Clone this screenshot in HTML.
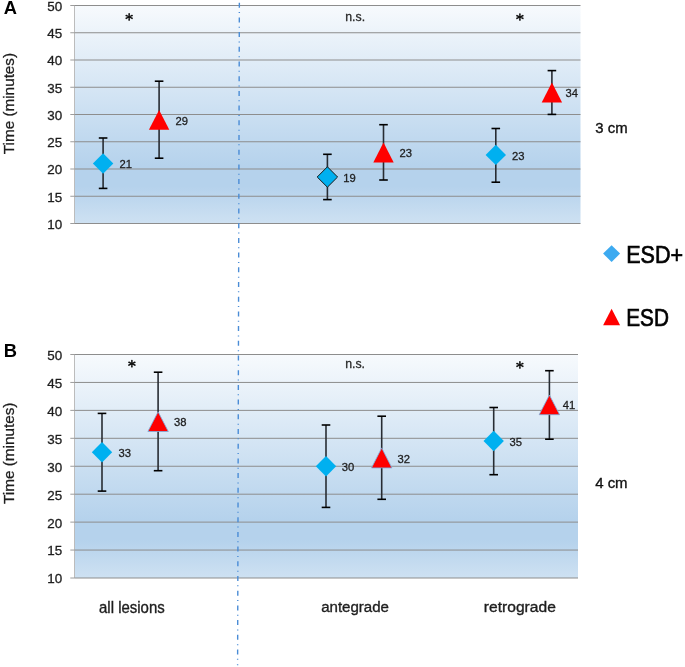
<!DOCTYPE html>
<html><head><meta charset="utf-8"><style>
html,body{margin:0;padding:0;background:#fff;width:685px;height:667px;overflow:hidden}
svg{display:block;will-change:transform}
text{font-family:"Liberation Sans",sans-serif}
</style></head><body>
<svg width="685" height="667" viewBox="0 0 685 667">
<defs>
<linearGradient id="bg" x1="0" y1="0" x2="0" y2="1">
<stop offset="0" stop-color="#f7fafd"/>
<stop offset="0.74" stop-color="#b5d2ec"/>
<stop offset="0.83" stop-color="#b5d2ec"/>
<stop offset="1" stop-color="#cee1f2"/>
</linearGradient>
</defs>
<rect x="75" y="5.5" width="505.5" height="218.0" fill="url(#bg)"/>
<line x1="74.5" y1="5.5" x2="74.5" y2="223.5" stroke="#bcbcbc" stroke-width="1.0"/>
<line x1="75" y1="5.50" x2="580.5" y2="5.50" stroke="#8d8d8d" stroke-width="1.0"/>
<line x1="70.3" y1="5.50" x2="75" y2="5.50" stroke="#9c9c9c" stroke-width="1.0"/>
<text transform="translate(47.31 10.92) scale(1.030 1)" style="font-size:13.06px;fill:#1e1e1e;stroke:#1e1e1e;stroke-width:0.3px;">50</text>
<line x1="75" y1="32.75" x2="580.5" y2="32.75" stroke="#8d8d8d" stroke-width="1.0"/>
<line x1="70.3" y1="32.75" x2="75" y2="32.75" stroke="#9c9c9c" stroke-width="1.0"/>
<text transform="translate(47.35 38.04) scale(1.030 1)" style="font-size:13.06px;fill:#1e1e1e;stroke:#1e1e1e;stroke-width:0.3px;">45</text>
<line x1="75" y1="60.00" x2="580.5" y2="60.00" stroke="#8d8d8d" stroke-width="1.0"/>
<line x1="70.3" y1="60.00" x2="75" y2="60.00" stroke="#9c9c9c" stroke-width="1.0"/>
<text transform="translate(47.31 65.42) scale(1.030 1)" style="font-size:13.06px;fill:#1e1e1e;stroke:#1e1e1e;stroke-width:0.3px;">40</text>
<line x1="75" y1="87.25" x2="580.5" y2="87.25" stroke="#8d8d8d" stroke-width="1.0"/>
<line x1="70.3" y1="87.25" x2="75" y2="87.25" stroke="#9c9c9c" stroke-width="1.0"/>
<text transform="translate(47.35 92.67) scale(1.030 1)" style="font-size:13.06px;fill:#1e1e1e;stroke:#1e1e1e;stroke-width:0.3px;">35</text>
<line x1="75" y1="114.50" x2="580.5" y2="114.50" stroke="#8d8d8d" stroke-width="1.0"/>
<line x1="70.3" y1="114.50" x2="75" y2="114.50" stroke="#9c9c9c" stroke-width="1.0"/>
<text transform="translate(47.31 119.92) scale(1.030 1)" style="font-size:13.06px;fill:#1e1e1e;stroke:#1e1e1e;stroke-width:0.3px;">30</text>
<line x1="75" y1="141.75" x2="580.5" y2="141.75" stroke="#8d8d8d" stroke-width="1.0"/>
<line x1="70.3" y1="141.75" x2="75" y2="141.75" stroke="#9c9c9c" stroke-width="1.0"/>
<text transform="translate(47.35 147.17) scale(1.030 1)" style="font-size:13.06px;fill:#1e1e1e;stroke:#1e1e1e;stroke-width:0.3px;">25</text>
<line x1="75" y1="169.00" x2="580.5" y2="169.00" stroke="#8d8d8d" stroke-width="1.0"/>
<line x1="70.3" y1="169.00" x2="75" y2="169.00" stroke="#9c9c9c" stroke-width="1.0"/>
<text transform="translate(47.31 174.42) scale(1.030 1)" style="font-size:13.06px;fill:#1e1e1e;stroke:#1e1e1e;stroke-width:0.3px;">20</text>
<line x1="75" y1="196.25" x2="580.5" y2="196.25" stroke="#8d8d8d" stroke-width="1.0"/>
<line x1="70.3" y1="196.25" x2="75" y2="196.25" stroke="#9c9c9c" stroke-width="1.0"/>
<text transform="translate(47.35 201.54) scale(1.030 1)" style="font-size:13.06px;fill:#1e1e1e;stroke:#1e1e1e;stroke-width:0.3px;">15</text>
<line x1="75" y1="223.50" x2="580.5" y2="223.50" stroke="#8d8d8d" stroke-width="1.0"/>
<line x1="70.3" y1="223.50" x2="75" y2="223.50" stroke="#9c9c9c" stroke-width="1.0"/>
<text transform="translate(47.31 228.92) scale(1.030 1)" style="font-size:13.06px;fill:#1e1e1e;stroke:#1e1e1e;stroke-width:0.3px;">10</text>
<rect x="75" y="354.5" width="503" height="223.5" fill="url(#bg)"/>
<line x1="74.5" y1="354.5" x2="74.5" y2="578" stroke="#bcbcbc" stroke-width="1.0"/>
<line x1="75" y1="354.50" x2="578" y2="354.50" stroke="#8d8d8d" stroke-width="1.0"/>
<line x1="70.3" y1="354.50" x2="75" y2="354.50" stroke="#9c9c9c" stroke-width="1.0"/>
<text transform="translate(47.31 359.92) scale(1.030 1)" style="font-size:13.06px;fill:#1e1e1e;stroke:#1e1e1e;stroke-width:0.3px;">50</text>
<line x1="75" y1="382.44" x2="578" y2="382.44" stroke="#8d8d8d" stroke-width="1.0"/>
<line x1="70.3" y1="382.44" x2="75" y2="382.44" stroke="#9c9c9c" stroke-width="1.0"/>
<text transform="translate(47.35 387.72) scale(1.030 1)" style="font-size:13.06px;fill:#1e1e1e;stroke:#1e1e1e;stroke-width:0.3px;">45</text>
<line x1="75" y1="410.38" x2="578" y2="410.38" stroke="#8d8d8d" stroke-width="1.0"/>
<line x1="70.3" y1="410.38" x2="75" y2="410.38" stroke="#9c9c9c" stroke-width="1.0"/>
<text transform="translate(47.31 415.79) scale(1.030 1)" style="font-size:13.06px;fill:#1e1e1e;stroke:#1e1e1e;stroke-width:0.3px;">40</text>
<line x1="75" y1="438.31" x2="578" y2="438.31" stroke="#8d8d8d" stroke-width="1.0"/>
<line x1="70.3" y1="438.31" x2="75" y2="438.31" stroke="#9c9c9c" stroke-width="1.0"/>
<text transform="translate(47.35 443.73) scale(1.030 1)" style="font-size:13.06px;fill:#1e1e1e;stroke:#1e1e1e;stroke-width:0.3px;">35</text>
<line x1="75" y1="466.25" x2="578" y2="466.25" stroke="#8d8d8d" stroke-width="1.0"/>
<line x1="70.3" y1="466.25" x2="75" y2="466.25" stroke="#9c9c9c" stroke-width="1.0"/>
<text transform="translate(47.31 471.67) scale(1.030 1)" style="font-size:13.06px;fill:#1e1e1e;stroke:#1e1e1e;stroke-width:0.3px;">30</text>
<line x1="75" y1="494.19" x2="578" y2="494.19" stroke="#8d8d8d" stroke-width="1.0"/>
<line x1="70.3" y1="494.19" x2="75" y2="494.19" stroke="#9c9c9c" stroke-width="1.0"/>
<text transform="translate(47.35 499.61) scale(1.030 1)" style="font-size:13.06px;fill:#1e1e1e;stroke:#1e1e1e;stroke-width:0.3px;">25</text>
<line x1="75" y1="522.12" x2="578" y2="522.12" stroke="#8d8d8d" stroke-width="1.0"/>
<line x1="70.3" y1="522.12" x2="75" y2="522.12" stroke="#9c9c9c" stroke-width="1.0"/>
<text transform="translate(47.31 527.54) scale(1.030 1)" style="font-size:13.06px;fill:#1e1e1e;stroke:#1e1e1e;stroke-width:0.3px;">20</text>
<line x1="75" y1="550.06" x2="578" y2="550.06" stroke="#8d8d8d" stroke-width="1.0"/>
<line x1="70.3" y1="550.06" x2="75" y2="550.06" stroke="#9c9c9c" stroke-width="1.0"/>
<text transform="translate(47.35 555.35) scale(1.030 1)" style="font-size:13.06px;fill:#1e1e1e;stroke:#1e1e1e;stroke-width:0.3px;">15</text>
<line x1="75" y1="578.00" x2="578" y2="578.00" stroke="#8d8d8d" stroke-width="1.0"/>
<line x1="70.3" y1="578.00" x2="75" y2="578.00" stroke="#9c9c9c" stroke-width="1.0"/>
<text transform="translate(47.31 583.42) scale(1.030 1)" style="font-size:13.06px;fill:#1e1e1e;stroke:#1e1e1e;stroke-width:0.3px;">10</text>
<line x1="103.1" y1="138" x2="103.1" y2="188.4" stroke="#272c33" stroke-width="1.6"/>
<line x1="98.8" y1="138" x2="107.39999999999999" y2="138" stroke="#000" stroke-width="1.6"/>
<line x1="98.8" y1="188.4" x2="107.39999999999999" y2="188.4" stroke="#000" stroke-width="1.6"/>
<path d="M103.1 153.35000000000002L113.3 163.55L103.1 173.75L92.89999999999999 163.55Z" fill="#00b0f0"/>
<text transform="translate(119.48 168.25) scale(0.970 1)" style="font-size:11.60px;fill:#1e1e1e;stroke:#1e1e1e;stroke-width:0.3px;">21</text>
<line x1="159.1" y1="81.2" x2="159.1" y2="158.2" stroke="#272c33" stroke-width="1.6"/>
<line x1="154.79999999999998" y1="81.2" x2="163.4" y2="81.2" stroke="#000" stroke-width="1.6"/>
<line x1="154.79999999999998" y1="158.2" x2="163.4" y2="158.2" stroke="#000" stroke-width="1.6"/>
<path d="M159.1 109.9L169.29999999999998 129.7L148.9 129.7Z" fill="#ff0000"/>
<text transform="translate(175.38 124.50) scale(0.970 1)" style="font-size:11.60px;fill:#1e1e1e;stroke:#1e1e1e;stroke-width:0.3px;">29</text>
<line x1="327.4" y1="154.3" x2="327.4" y2="199.6" stroke="#272c33" stroke-width="1.6"/>
<line x1="323.09999999999997" y1="154.3" x2="331.7" y2="154.3" stroke="#000" stroke-width="1.6"/>
<line x1="323.09999999999997" y1="199.6" x2="331.7" y2="199.6" stroke="#000" stroke-width="1.6"/>
<path d="M327.4 166.8L337.59999999999997 177L327.4 187.2L317.2 177Z" fill="#00b0f0" stroke="#1a1a1a" stroke-width="1"/>
<text transform="translate(343.29 181.70) scale(0.970 1)" style="font-size:11.60px;fill:#1e1e1e;stroke:#1e1e1e;stroke-width:0.3px;">19</text>
<line x1="383.5" y1="124.7" x2="383.5" y2="180" stroke="#272c33" stroke-width="1.6"/>
<line x1="379.2" y1="124.7" x2="387.8" y2="124.7" stroke="#000" stroke-width="1.6"/>
<line x1="379.2" y1="180" x2="387.8" y2="180" stroke="#000" stroke-width="1.6"/>
<path d="M383.5 142.5L393.7 162.4L373.3 162.4Z" fill="#ff0000"/>
<text transform="translate(399.58 157.15) scale(0.970 1)" style="font-size:11.60px;fill:#1e1e1e;stroke:#1e1e1e;stroke-width:0.3px;">23</text>
<line x1="495.8" y1="128.5" x2="495.8" y2="182.2" stroke="#272c33" stroke-width="1.6"/>
<line x1="491.5" y1="128.5" x2="500.1" y2="128.5" stroke="#000" stroke-width="1.6"/>
<line x1="491.5" y1="182.2" x2="500.1" y2="182.2" stroke="#000" stroke-width="1.6"/>
<path d="M495.8 144.70000000000002L506.0 154.9L495.8 165.1L485.6 154.9Z" fill="#00b0f0"/>
<text transform="translate(511.98 159.60) scale(0.970 1)" style="font-size:11.60px;fill:#1e1e1e;stroke:#1e1e1e;stroke-width:0.3px;">23</text>
<line x1="551.9" y1="70.6" x2="551.9" y2="114.4" stroke="#272c33" stroke-width="1.6"/>
<line x1="547.6" y1="70.6" x2="556.1999999999999" y2="70.6" stroke="#000" stroke-width="1.6"/>
<line x1="547.6" y1="114.4" x2="556.1999999999999" y2="114.4" stroke="#000" stroke-width="1.6"/>
<path d="M551.9 82.6L562.1 102.5L541.6999999999999 102.5Z" fill="#ff0000"/>
<text transform="translate(565.52 97.25) scale(0.970 1)" style="font-size:11.60px;fill:#1e1e1e;stroke:#1e1e1e;stroke-width:0.3px;">34</text>
<line x1="102" y1="413.4" x2="102" y2="491.1" stroke="#272c33" stroke-width="1.6"/>
<line x1="97.7" y1="413.4" x2="106.3" y2="413.4" stroke="#000" stroke-width="1.6"/>
<line x1="97.7" y1="491.1" x2="106.3" y2="491.1" stroke="#000" stroke-width="1.6"/>
<path d="M102 442.0L112.2 452.2L102 462.4L91.8 452.2Z" fill="#00b0f0"/>
<text transform="translate(118.42 456.90) scale(0.970 1)" style="font-size:11.60px;fill:#1e1e1e;stroke:#1e1e1e;stroke-width:0.3px;">33</text>
<line x1="158.1" y1="372.2" x2="158.1" y2="470.7" stroke="#272c33" stroke-width="1.6"/>
<line x1="153.79999999999998" y1="372.2" x2="162.4" y2="372.2" stroke="#000" stroke-width="1.6"/>
<line x1="153.79999999999998" y1="470.7" x2="162.4" y2="470.7" stroke="#000" stroke-width="1.6"/>
<path d="M158.1 411.8L168.29999999999998 431.5L147.9 431.5Z" fill="#ff0000" stroke="#7aaee0" stroke-width="0.8"/>
<text transform="translate(174.12 426.35) scale(0.970 1)" style="font-size:11.60px;fill:#1e1e1e;stroke:#1e1e1e;stroke-width:0.3px;">38</text>
<line x1="326" y1="425" x2="326" y2="507.4" stroke="#272c33" stroke-width="1.6"/>
<line x1="321.7" y1="425" x2="330.3" y2="425" stroke="#000" stroke-width="1.6"/>
<line x1="321.7" y1="507.4" x2="330.3" y2="507.4" stroke="#000" stroke-width="1.6"/>
<path d="M326 456.1L336.2 466.3L326 476.5L315.8 466.3Z" fill="#00b0f0"/>
<text transform="translate(341.82 471.00) scale(0.970 1)" style="font-size:11.60px;fill:#1e1e1e;stroke:#1e1e1e;stroke-width:0.3px;">30</text>
<line x1="381.7" y1="416.2" x2="381.7" y2="499.3" stroke="#272c33" stroke-width="1.6"/>
<line x1="377.4" y1="416.2" x2="386.0" y2="416.2" stroke="#000" stroke-width="1.6"/>
<line x1="377.4" y1="499.3" x2="386.0" y2="499.3" stroke="#000" stroke-width="1.6"/>
<path d="M381.7 447.9L391.9 467.9L371.5 467.9Z" fill="#ff0000" stroke="#7aaee0" stroke-width="0.8"/>
<text transform="translate(397.62 462.60) scale(0.970 1)" style="font-size:11.60px;fill:#1e1e1e;stroke:#1e1e1e;stroke-width:0.3px;">32</text>
<line x1="493.7" y1="407.5" x2="493.7" y2="474.7" stroke="#272c33" stroke-width="1.6"/>
<line x1="489.4" y1="407.5" x2="498.0" y2="407.5" stroke="#000" stroke-width="1.6"/>
<line x1="489.4" y1="474.7" x2="498.0" y2="474.7" stroke="#000" stroke-width="1.6"/>
<path d="M493.7 430.8L503.9 441L493.7 451.2L483.5 441Z" fill="#00b0f0"/>
<text transform="translate(509.62 445.70) scale(0.970 1)" style="font-size:11.60px;fill:#1e1e1e;stroke:#1e1e1e;stroke-width:0.3px;">35</text>
<line x1="549.4" y1="370.7" x2="549.4" y2="439.2" stroke="#272c33" stroke-width="1.6"/>
<line x1="545.1" y1="370.7" x2="553.6999999999999" y2="370.7" stroke="#000" stroke-width="1.6"/>
<line x1="545.1" y1="439.2" x2="553.6999999999999" y2="439.2" stroke="#000" stroke-width="1.6"/>
<path d="M549.4 395L559.6 414.7L539.1999999999999 414.7Z" fill="#ff0000" stroke="#7aaee0" stroke-width="0.8"/>
<text transform="translate(562.79 409.43) scale(0.970 1)" style="font-size:11.60px;fill:#1e1e1e;stroke:#1e1e1e;stroke-width:0.3px;">41</text>
<path d="M129.65 16.90L130.00 13.90A0.85 0.85 0 0 0 128.30 13.90L128.65 16.90ZM128.65 16.90L128.30 19.90A0.85 0.85 0 0 0 130.00 19.90L129.65 16.90ZM129.36 17.35L132.41 16.32A0.85 0.85 0 0 0 131.69 14.78L128.94 16.45ZM128.94 17.35L131.69 19.02A0.85 0.85 0 0 0 132.41 17.48L129.36 16.45ZM128.94 16.45L125.89 17.48A0.85 0.85 0 0 0 126.61 19.02L129.36 17.35ZM129.36 16.45L126.61 14.78A0.85 0.85 0 0 0 125.89 16.32L128.94 17.35Z" fill="#111"/>
<circle cx="129.15" cy="16.9" r="1.1" fill="#111"/>
<path d="M520.40 17.00L520.75 14.00A0.85 0.85 0 0 0 519.05 14.00L519.40 17.00ZM519.40 17.00L519.05 20.00A0.85 0.85 0 0 0 520.75 20.00L520.40 17.00ZM520.11 17.45L523.16 16.42A0.85 0.85 0 0 0 522.44 14.88L519.69 16.55ZM519.69 17.45L522.44 19.12A0.85 0.85 0 0 0 523.16 17.58L520.11 16.55ZM519.69 16.55L516.64 17.58A0.85 0.85 0 0 0 517.36 19.12L520.11 17.45ZM520.11 16.55L517.36 14.88A0.85 0.85 0 0 0 516.64 16.42L519.69 17.45Z" fill="#111"/>
<circle cx="519.9" cy="17.0" r="1.1" fill="#111"/>
<path d="M132.40 363.70L132.75 360.70A0.85 0.85 0 0 0 131.05 360.70L131.40 363.70ZM131.40 363.70L131.05 366.70A0.85 0.85 0 0 0 132.75 366.70L132.40 363.70ZM132.11 364.15L135.16 363.12A0.85 0.85 0 0 0 134.44 361.58L131.69 363.25ZM131.69 364.15L134.44 365.82A0.85 0.85 0 0 0 135.16 364.28L132.11 363.25ZM131.69 363.25L128.64 364.28A0.85 0.85 0 0 0 129.36 365.82L132.11 364.15ZM132.11 363.25L129.36 361.58A0.85 0.85 0 0 0 128.64 363.12L131.69 364.15Z" fill="#111"/>
<circle cx="131.9" cy="363.7" r="1.1" fill="#111"/>
<path d="M520.40 364.90L520.75 361.90A0.85 0.85 0 0 0 519.05 361.90L519.40 364.90ZM519.40 364.90L519.05 367.90A0.85 0.85 0 0 0 520.75 367.90L520.40 364.90ZM520.11 365.35L523.16 364.32A0.85 0.85 0 0 0 522.44 362.78L519.69 364.45ZM519.69 365.35L522.44 367.02A0.85 0.85 0 0 0 523.16 365.48L520.11 364.45ZM519.69 364.45L516.64 365.48A0.85 0.85 0 0 0 517.36 367.02L520.11 365.35ZM520.11 364.45L517.36 362.78A0.85 0.85 0 0 0 516.64 364.32L519.69 365.35Z" fill="#111"/>
<circle cx="519.9" cy="364.9" r="1.1" fill="#111"/>
<text transform="translate(345.23 20.63) scale(0.977 1)" style="font-size:12.59px;fill:#2a2a2a;stroke:#2a2a2a;stroke-width:0.3px;">n.s.</text>
<text transform="translate(345.13 368.32) scale(0.937 1)" style="font-size:13.14px;fill:#2a2a2a;stroke:#2a2a2a;stroke-width:0.3px;">n.s.</text>
<line x1="239.4" y1="-12" x2="237.6" y2="665.2" stroke="#4a8cd6" stroke-width="1.4" stroke-dasharray="5 4.35 1 4.35" stroke-dashoffset="0"/>
<text transform="translate(13.60 154.24) rotate(-90) scale(1.013 1)" style="font-size:15.1px;fill:#1e1e1e;stroke:#1e1e1e;stroke-width:0.3px">Time (minutes)</text>
<text transform="translate(13.60 503.94) rotate(-90) scale(1.014 1)" style="font-size:15.1px;fill:#1e1e1e;stroke:#1e1e1e;stroke-width:0.3px">Time (minutes)</text>
<text transform="translate(3.84 13.50) scale(1.001 1)" style="font-weight:bold;font-size:18.31px;fill:#000;">A</text>
<text transform="translate(3.77 357.30) scale(0.964 1)" style="font-weight:bold;font-size:19.04px;fill:#000;">B</text>
<text transform="translate(99.04 612.57) scale(0.960 1)" style="font-size:15.59px;fill:#1e1e1e;stroke:#1e1e1e;stroke-width:0.35px;">all lesions</text>
<text transform="translate(321.13 612.10) scale(1.001 1)" style="font-size:15.07px;fill:#1e1e1e;stroke:#1e1e1e;stroke-width:0.35px;">antegrade</text>
<text transform="translate(483.84 612.10) scale(1.036 1)" style="font-size:15.07px;fill:#1e1e1e;stroke:#1e1e1e;stroke-width:0.35px;">retrograde</text>
<text transform="translate(595.31 132.88) scale(1.000 1)" style="font-size:14.90px;fill:#111;stroke:#111;stroke-width:0.35px;">3 cm</text>
<text transform="translate(595.13 488.38) scale(1.011 1)" style="font-size:14.83px;fill:#111;stroke:#111;stroke-width:0.35px;">4 cm</text>
<path d="M611.6 245.2L620.1 253.6L611.6 262.1L603.1 253.6Z" fill="#3daaf0"/>
<path d="M611.6 308.8L620.1 325.3L603.1 325.3Z" fill="#ff0000"/>
<text transform="translate(626.18 263.41) scale(0.877 1)" style="font-size:24.58px;fill:#000;stroke:#000;stroke-width:0.7px;">ESD+</text>
<text transform="translate(626.25 326.01) scale(0.845 1)" style="font-size:24.58px;fill:#000;stroke:#000;stroke-width:0.7px;">ESD</text>
</svg>
</body></html>
